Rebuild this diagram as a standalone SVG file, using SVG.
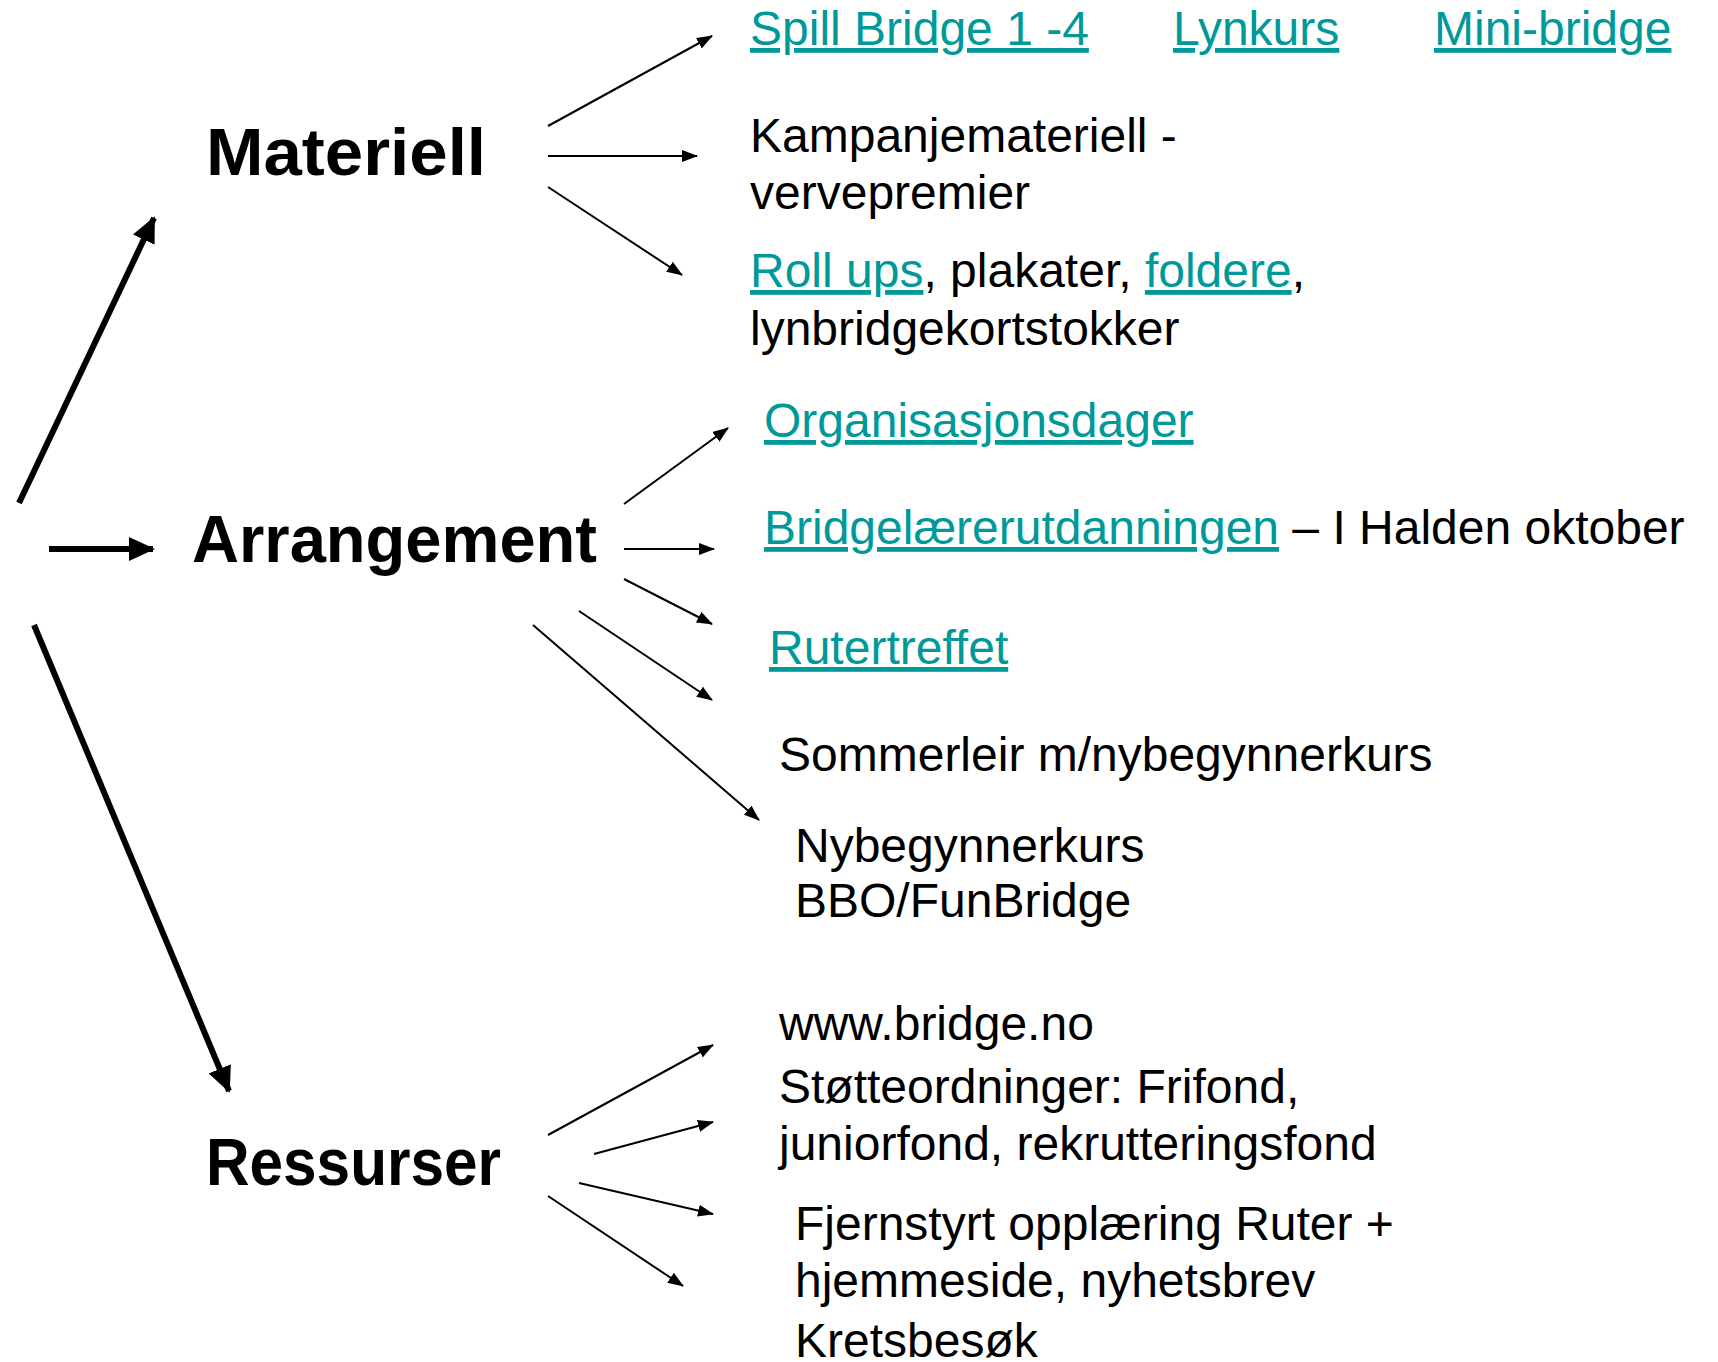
<svg xmlns="http://www.w3.org/2000/svg" width="1718" height="1362" viewBox="0 0 1718 1362">
<defs>
<style>
.hd{font-family:"Liberation Sans",Arial,sans-serif;font-weight:bold;font-size:66px;fill:#000}
.tx{font-family:"Liberation Sans",Arial,sans-serif;font-size:48px;fill:#000}
.lk{fill:#009999;text-decoration:underline}
.thin{stroke:#000;stroke-width:2;fill:none;marker-end:url(#ah)}
.thick{stroke:#000;stroke-width:6;fill:none;marker-end:url(#ahb)}
</style>
<marker id="ah" markerUnits="userSpaceOnUse" viewBox="0 0 16 12" markerWidth="16" markerHeight="12" refX="15" refY="6" orient="auto">
<path d="M0,0 L16,6 L0,12 z" fill="#000"/>
</marker>
<marker id="ahb" markerUnits="userSpaceOnUse" viewBox="0 0 26 24" markerWidth="26" markerHeight="24" refX="24" refY="12" orient="auto">
<path d="M0,0 L26,12 L0,24 z" fill="#000"/>
</marker>
</defs>
<rect width="1718" height="1362" fill="#fff"/>
<g id="connectors">
<line class="thick" x1="19" y1="503" x2="154" y2="218"/>
<line class="thick" x1="49" y1="549" x2="153" y2="549"/>
<line class="thick" x1="34" y1="625" x2="229" y2="1091"/>
<line class="thin" x1="548" y1="126" x2="712" y2="36"/>
<line class="thin" x1="548" y1="156" x2="697" y2="156"/>
<line class="thin" x1="548" y1="187" x2="682" y2="275"/>
<line class="thin" x1="624" y1="504" x2="728" y2="428"/>
<line class="thin" x1="624" y1="549" x2="714" y2="549"/>
<line class="thin" x1="624" y1="579" x2="712" y2="624"/>
<line class="thin" x1="579" y1="611" x2="712" y2="700"/>
<line class="thin" x1="533" y1="625" x2="759" y2="820"/>
<line class="thin" x1="548" y1="1135" x2="713" y2="1045"/>
<line class="thin" x1="594" y1="1154" x2="713" y2="1122"/>
<line class="thin" x1="579" y1="1183" x2="713" y2="1214"/>
<line class="thin" x1="548" y1="1196" x2="683" y2="1286"/>
</g>
<g id="materiell"><text class="hd" x="206" y="175" textLength="280" lengthAdjust="spacingAndGlyphs">Materiell</text></g>
<g id="arrangement"><text class="hd" x="192" y="562" textLength="405" lengthAdjust="spacingAndGlyphs">Arrangement</text></g>
<g id="ressurser"><text class="hd" x="206" y="1185" textLength="295" lengthAdjust="spacingAndGlyphs">Ressurser</text></g>
<g id="spill"><text class="tx" x="750" y="45"><tspan class="lk">Spill Bridge 1 -4</tspan></text></g>
<g id="lynkurs"><text class="tx" x="1173" y="45"><tspan class="lk">Lynkurs</tspan></text></g>
<g id="minibridge"><text class="tx" x="1434" y="45"><tspan class="lk">Mini-bridge</tspan></text></g>
<g id="kampanje"><text class="tx" x="750" y="152">Kampanjemateriell -</text><text class="tx" x="750" y="209">vervepremier</text></g>
<g id="rollups"><text class="tx" x="750" y="287"><tspan class="lk">Roll ups</tspan>, plakater, <tspan class="lk">foldere</tspan>,</text><text class="tx" x="750" y="345">lynbridgekortstokker</text></g>
<g id="organisasjonsdager"><text class="tx" x="764" y="437"><tspan class="lk">Organisasjonsdager</tspan></text></g>
<g id="bridgelaerer"><text class="tx" x="764" y="544"><tspan class="lk">Bridgelærerutdanningen</tspan> – I Halden oktober</text></g>
<g id="rutertreffet"><text class="tx" x="769" y="664"><tspan class="lk">Rutertreffet</tspan></text></g>
<g id="sommerleir"><text class="tx" x="779" y="771">Sommerleir m/nybegynnerkurs</text></g>
<g id="nybegynner"><text class="tx" x="795" y="862">Nybegynnerkurs</text><text class="tx" x="795" y="917">BBO/FunBridge</text></g>
<g id="bridgeno"><text class="tx" x="779" y="1040">www.bridge.no</text></g>
<g id="stotte"><text class="tx" x="779" y="1103">Støtteordninger: Frifond,</text><text class="tx" x="779" y="1160">juniorfond, rekrutteringsfond</text></g>
<g id="fjernstyrt"><text class="tx" x="795" y="1240">Fjernstyrt opplæring Ruter +</text><text class="tx" x="795" y="1297">hjemmeside, nyhetsbrev</text><text class="tx" x="795" y="1357">Kretsbesøk</text></g>
</svg>
